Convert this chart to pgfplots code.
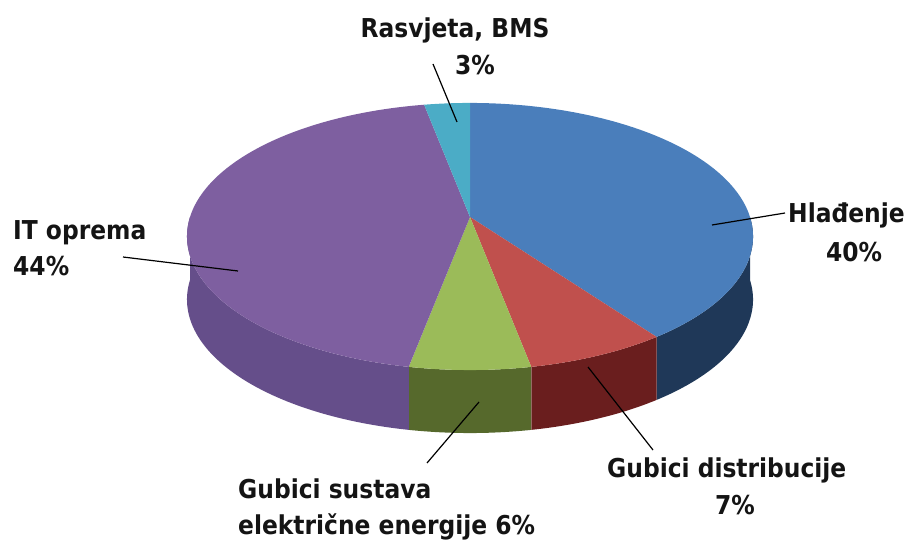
\documentclass[border=0pt]{standalone}
\usepackage{pgfplots}
\pgfplotsset{compat=1.18}
\usepgfplotslibrary{fillbetween}
\usepackage{fontspec}
\setmainfont{DejaVu Sans Condensed}
\definecolor{cBlue}{HTML}{4A7EBB}
\definecolor{cRed}{HTML}{C0504D}
\definecolor{cGreen}{HTML}{9BBB59}
\definecolor{cPurple}{HTML}{7E5FA0}
\definecolor{cCyan}{HTML}{4BACC6}
\definecolor{sBlue}{HTML}{1F3858}
\definecolor{sRed}{HTML}{6A1E1E}
\definecolor{sGreen}{HTML}{56692C}
\definecolor{sPurple}{HTML}{654E8A}
\definecolor{txt}{HTML}{141414}
\newcommand\lab{\fontsize{26}{31}\selectfont\bfseries}
% data (percent)
\def\vHla{40}
\def\vDis{7}
\def\vSus{6}
\def\vIT{44}
\def\vRas{3}
\begin{document}
\begin{tikzpicture}
\pgfmathsetmacro\aZ{90}
\pgfmathsetmacro\aA{\aZ-3.6*\vHla}
\pgfmathsetmacro\aB{\aA-3.6*\vDis}
\pgfmathsetmacro\aC{\aB-3.6*\vSus}
\pgfmathsetmacro\aD{\aC-3.6*\vIT}
\pgfmathsetmacro\aE{\aD-3.6*\vRas}
\begin{axis}[x=1pt, y=1pt, xmin=0, xmax=909, ymin=0, ymax=541,
  y dir=reverse, hide axis, clip=false,
  declare function={px(\t)=470+280*cos(\t)/(1+0.146*sin(\t));
                    py(\t)=217-130.7*sin(\t)/(1+0.146*sin(\t));}]
\path (rel axis cs:0,0) rectangle (rel axis cs:1,1);
% side walls
\addplot[draw=none, name path=bt1, domain=\aA:0, samples=60] ({px(x)},{py(x)});
\addplot[draw=none, name path=bb1, domain=\aA:0, samples=60] ({px(x)},{py(x)+63});
\addplot[sBlue] fill between[of=bt1 and bb1];
\addplot[draw=none, name path=bt2, domain=\aB:\aA, samples=30] ({px(x)},{py(x)});
\addplot[draw=none, name path=bb2, domain=\aB:\aA, samples=30] ({px(x)},{py(x)+63});
\addplot[sRed] fill between[of=bt2 and bb2];
\addplot[draw=none, name path=bt3, domain=\aC:\aB, samples=30] ({px(x)},{py(x)});
\addplot[draw=none, name path=bb3, domain=\aC:\aB, samples=30] ({px(x)},{py(x)+63});
\addplot[sGreen] fill between[of=bt3 and bb3];
\addplot[draw=none, name path=bt4, domain=-180:\aC, samples=60] ({px(x)},{py(x)});
\addplot[draw=none, name path=bb4, domain=-180:\aC, samples=60] ({px(x)},{py(x)+63});
\addplot[sPurple] fill between[of=bt4 and bb4];
% top faces
\addplot[fill=cBlue, draw=none, domain=\aA:\aZ, samples=100] ({px(x)},{py(x)}) -- (axis cs:470,217) -- cycle;
\addplot[fill=cRed, draw=none, domain=\aB:\aA, samples=30] ({px(x)},{py(x)}) -- (axis cs:470,217) -- cycle;
\addplot[fill=cGreen, draw=none, domain=\aC:\aB, samples=30] ({px(x)},{py(x)}) -- (axis cs:470,217) -- cycle;
\addplot[fill=cPurple, draw=none, domain=\aD:\aC, samples=100] ({px(x)},{py(x)}) -- (axis cs:470,217) -- cycle;
\addplot[fill=cCyan, draw=none, domain=\aE:\aD, samples=20] ({px(x)},{py(x)}) -- (axis cs:470,217) -- cycle;
% leader lines
\draw[black, line width=1.2pt] (axis cs:433,64) -- (axis cs:457,122);
\draw[black, line width=1.2pt] (axis cs:712,225) -- (axis cs:785,213);
\draw[black, line width=1.2pt] (axis cs:123,257) -- (axis cs:238,271);
\draw[black, line width=1.2pt] (axis cs:588,367) -- (axis cs:653,450);
\draw[black, line width=1.2pt] (axis cs:427,463) -- (axis cs:479,402);
% labels
\node[anchor=base, text=txt, font=\lab, inner sep=0pt] at (axis cs:455,38) {Rasvjeta, BMS};
\node[anchor=base, text=txt, font=\lab, inner sep=0pt] at (axis cs:475,75) {3\%};
\node[anchor=base west, text=txt, font=\lab, inner sep=0pt] at (axis cs:788,223) {Hlađenje};
\node[anchor=base, text=txt, font=\lab, inner sep=0pt] at (axis cs:854,262) {40\%};
\node[anchor=base west, text=txt, font=\lab, inner sep=0pt] at (axis cs:13,240) {IT oprema};
\node[anchor=base west, text=txt, font=\lab, inner sep=0pt] at (axis cs:13,276) {44\%};
\node[anchor=base west, text=txt, font=\lab, inner sep=0pt] at (axis cs:607,477) {Gubici distribucije};
\node[anchor=base, text=txt, font=\lab, inner sep=0pt] at (axis cs:735,514) {7\%};
\node[anchor=base west, text=txt, font=\lab, inner sep=0pt] at (axis cs:238,498) {Gubici sustava};
\node[anchor=base west, text=txt, font=\lab, inner sep=0pt] at (axis cs:238,534) {električne energije 6\%};
\end{axis}
\end{tikzpicture}
\end{document}
